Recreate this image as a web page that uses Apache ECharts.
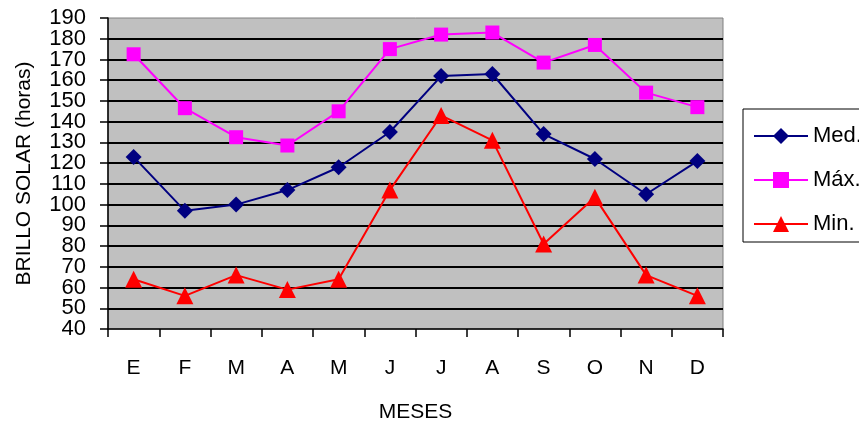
<!DOCTYPE html>
<html>
<head>
<meta charset="utf-8">
<script src="https://cdn.jsdelivr.net/npm/echarts@6/dist/echarts.min.js"></script>
<style>html,body{margin:0;padding:0;background:#fff}#c{width:859px;height:427px}</style>
</head>
<body>
<div id="c"></div>
<script>
const categories = ['E','F','M','A','M','J','J','A','S','O','N','D'];
const medValues = [123, 97, 100, 107, 118, 135, 162, 163, 134, 122, 105, 121];
const maxValues = [172.5, 146.5, 132.5, 128.5, 145, 175, 182, 183, 168.5, 177, 154, 147];
const minValues = [64, 56, 66, 59, 64, 107, 143, 131, 81, 103.5, 66, 56];
const seriesNames = ['Med.', 'Máx.', 'Min.'];
const yTicksEven = [40, 60, 80, 100, 120, 140, 160, 180];
const yTicksOdd = [50, 70, 90, 110, 130, 150, 170, 190];

const FONT = "'Liberation Sans', Arial, sans-serif";
const chart = echarts.init(document.getElementById('c'), null, {renderer: 'canvas'});

function mk(name, data, color, symbol, size) {
  return {
    name, type: 'line', data, symbol, symbolSize: size,
    lineStyle: {color, width: 2},
    itemStyle: {color},
    animation: false
  };
}

const yLabelStyle = {color: '#000', margin: 22, fontFamily: FONT, fontSize: 22, lineHeight: 16,
  hideOverlap: false, showMinLabel: true, showMaxLabel: true};

chart.setOption({
  backgroundColor: '#ffffff',
  animation: false,
  grid: {
    left: 108, right: 136, top: 18, bottom: 98,
    outerBoundsMode: 'none', containLabel: false,
    show: true, backgroundColor: '#c0c0c0', borderColor: '#808080', borderWidth: 1
  },
  legend: {
    left: 743, top: 109, orient: 'vertical',
    data: seriesNames,
    itemWidth: 54, itemHeight: 20, itemGap: 22,
    padding: [16, 40, 7, 10],
    borderColor: '#000', borderWidth: 1,
    textStyle: {fontFamily: FONT, fontSize: 22, color: '#000'}
  },
  xAxis: {
    type: 'category', data: categories, boundaryGap: true,
    name: 'MESES', nameLocation: 'middle', nameGap: 73,
    nameTextStyle: {fontFamily: FONT, fontSize: 21, color: '#000'},
    axisLine: {lineStyle: {color: '#000', width: 1.5}},
    axisTick: {show: true, length: 8, inside: false, lineStyle: {color: '#000', width: 1.5}},
    axisLabel: {fontFamily: FONT, fontSize: 21, color: '#000', margin: 29},
    splitLine: {show: false}
  },
  yAxis: [{
    type: 'value', min: 40, max: 190, interval: 10,
    name: 'BRILLO SOLAR (horas)', nameLocation: 'middle', nameGap: 73, nameRotate: 90,
    nameTextStyle: {fontFamily: FONT, fontSize: 21, color: '#000'},
    axisLine: {show: true, lineStyle: {color: '#000', width: 1.5}},
    axisTick: {show: true, length: 8, lineStyle: {color: '#000', width: 1.5}},
    axisLabel: Object.assign({customValues: yTicksEven}, yLabelStyle),
    splitLine: {show: true, showMinLine: false, showMaxLine: false, lineStyle: {color: '#000', width: 2}}
  }, {
    type: 'value', min: 40, max: 190, interval: 10, position: 'left', offset: 0,
    axisLine: {show: false}, axisTick: {show: false}, splitLine: {show: false},
    axisLabel: Object.assign({customValues: yTicksOdd}, yLabelStyle)
  }],
  series: [
    mk(seriesNames[0], medValues, '#000080', 'diamond', 16),
    mk(seriesNames[1], maxValues, '#ff00ff', 'rect', 14),
    mk(seriesNames[2], minValues, '#ff0000', 'triangle', 17)
  ]
});
</script>
</body>
</html>
